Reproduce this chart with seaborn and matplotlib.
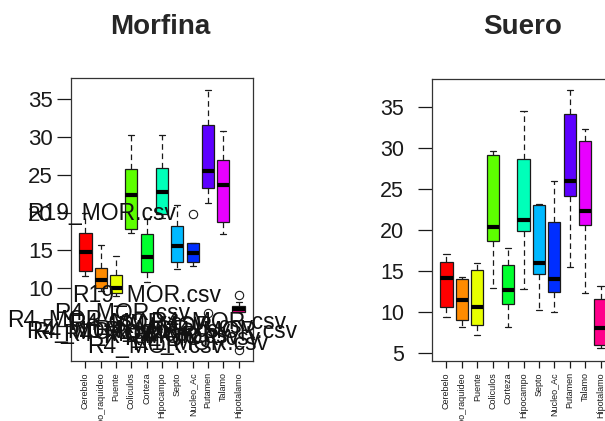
import numpy as np
import pandas as pd
import matplotlib
matplotlib.use("Agg")
import matplotlib.pyplot as plt
import seaborn as sns

regions = ["Cerebelo", "Bulbo_raquideo", "Puente", "Coliculos", "Corteza", "Hipocampo",
           "Septo", "Nucleo_Ac", "Putamen", "Talamo", "Hipotalamo"]
colors = ["#FF0000", "#FF8B00", "#E8FF00", "#5DFF00", "#00FF2E", "#00FFB9",
          "#00B9FF", "#002EFF", "#5D00FF", "#E800FF", "#FF008B"]
yticks = [5, 10, 15, 20, 25, 30, 35]

# Morfina five-number summaries (whisker low, Q1, median, Q3, whisker high)
mor_lo = [11.6, 9.6, 9.0, 17.3, 10.8, 19.3, 12.5, 12.9, 21.3, 17.1, 6.8]
mor_q1 = [12.3, 10.0, 9.3, 17.85, 12.15, 19.75, 13.5, 13.45, 23.3, 18.7, 6.9]
mor_med = [14.8, 11.05, 10.05, 22.35, 14.15, 22.7, 15.55, 14.6, 25.5, 23.6, 7.25]
mor_q3 = [17.3, 12.65, 11.7, 25.75, 17.1, 25.85, 18.25, 15.9, 31.6, 26.95, 7.65]
mor_hi = [20.0, 15.7, 14.2, 30.25, 19.1, 30.25, 21.0, 15.9, 36.2, 30.85, 8.1]
mor_out_region = ["Nucleo_Ac", "Hipotalamo", "Putamen", "Hipotalamo"]
mor_out_value = [19.8, 9.15, 6.7, 1.75]

# Suero five-number summaries
sue_lo = [9.35, 8.1, 7.2, 12.9, 8.2, 12.8, 10.2, 9.95, 15.5, 12.3, 5.6]
sue_q1 = [10.6, 9.0, 8.45, 18.6, 11.0, 19.9, 14.6, 12.45, 24.15, 20.6, 5.9]
sue_med = [14.1, 11.5, 10.6, 20.4, 12.65, 21.2, 16.0, 13.95, 26.0, 22.3, 8.05]
sue_q3 = [16.1, 14.0, 15.1, 29.1, 15.75, 28.65, 23.05, 21.0, 34.1, 30.85, 11.6]
sue_hi = [17.1, 14.3, 16.0, 29.6, 17.75, 34.45, 23.2, 25.95, 37.1, 32.3, 13.2]

# sample labels written over the Morfina panel (position on category axis, value)
lab_text = ["R19_MOR.csv", "R19_MOR.csv",
            "R4_MOR.csv", "R4_MOR.csv", "R4_MOR.csv", "R4_MOR.csv", "R4_MOR.csv",
            "R4_MOR.csv", "R4_MOR.csv", "R4_MOR.csv", "R4_MOR.csv", "R4_MOR.csv",
            "R4_MOR.csv", "R4_MOR.csv", "R4_MOR.csv", "R4_MOR.csv"]
lab_pos = [1.08, 4.02,
           -0.68, 2.4, 0.56, 0.95, 8.65, 9.4, 4.55, 7.5,
           3.4, 5.6, 6.5, 5.0, 7.0, 3.0]
lab_val = [19.9, 9.07,
           5.77, 6.7, 4.3, 4.1, 5.5, 4.2, 2.3, 2.7,
           5.3, 3.6, 4.9, 4.4, 3.3, 3.8]


def long_frame(lo, q1, med, q3, hi):
    rows = []
    for i, r in enumerate(regions):
        for v in (lo[i], q1[i], med[i], q3[i], hi[i]):
            rows.append({"region": r, "value": v})
    return pd.DataFrame(rows)


sns.set_theme(style="ticks")
plt.rcParams["font.family"] = ["Liberation Sans", "DejaVu Sans"]

fig = plt.figure(figsize=(6.05, 4.21), dpi=100)
W, H = 605, 421
ax1 = fig.add_axes([71 / W, (H - 361) / H, 182 / W, (361 - 78) / H])
ax2 = fig.add_axes([432 / W, (H - 361) / H, 183 / W, (361 - 79) / H])

frames = [long_frame(mor_lo, mor_q1, mor_med, mor_q3, mor_hi),
          long_frame(sue_lo, sue_q1, sue_med, sue_q3, sue_hi)]

for ax, df, ylim, ysize, ypad in zip([ax1, ax2], frames, [(0.35, 37.8), (4.0, 38.4)],
                                     [16, 15.5], [3, 10]):
    sns.boxplot(data=df, x="region", y="value", hue="region", order=regions,
                hue_order=regions, palette=colors, saturation=1, width=0.8,
                whis=(0, 100), showfliers=False, linecolor="#1a1a1a", linewidth=0.9,
                medianprops=dict(color="black", linewidth=3, solid_capstyle="butt"),
                whiskerprops=dict(linestyle=(0, (4.5, 3))),
                legend=False, ax=ax)
    ax.set_xlim(-0.94, 10.94)
    ax.set_ylim(*ylim)
    ax.set_yticks(yticks)
    ax.set_xlabel("")
    ax.set_ylabel("")
    ax.tick_params(axis="y", labelsize=ysize, length=10, width=0.9, pad=ypad,
                   colors="#1a1a1a")
    ax.tick_params(axis="x", labelsize=6.5, length=5, width=0.9, pad=3, labelrotation=90,
                   colors="#1a1a1a")
    for s in ax.spines.values():
        s.set_visible(True)
        s.set_color("#333333")
        s.set_linewidth(0.9)

# outliers on Morfina panel
ox = [regions.index(r) for r in mor_out_region]
ax1.plot(ox, mor_out_value, linestyle="none", marker="o", markersize=6,
         markerfacecolor="none", markeredgecolor="#1a1a1a", markeredgewidth=0.8)

for t, x, y in zip(lab_text, lab_pos, lab_val):
    ax1.text(x, y, t, ha="center", va="center", fontsize=16.5, color="#111111",
             clip_on=False)

fig.text(160 / W, 1 - 27 / H, "Morfina", ha="center", va="center", fontsize=20,
         fontweight="bold")
fig.text(523 / W, 1 - 27 / H, "Suero", ha="center", va="center", fontsize=20,
         fontweight="bold")

fig.savefig("out.png", dpi=100)
